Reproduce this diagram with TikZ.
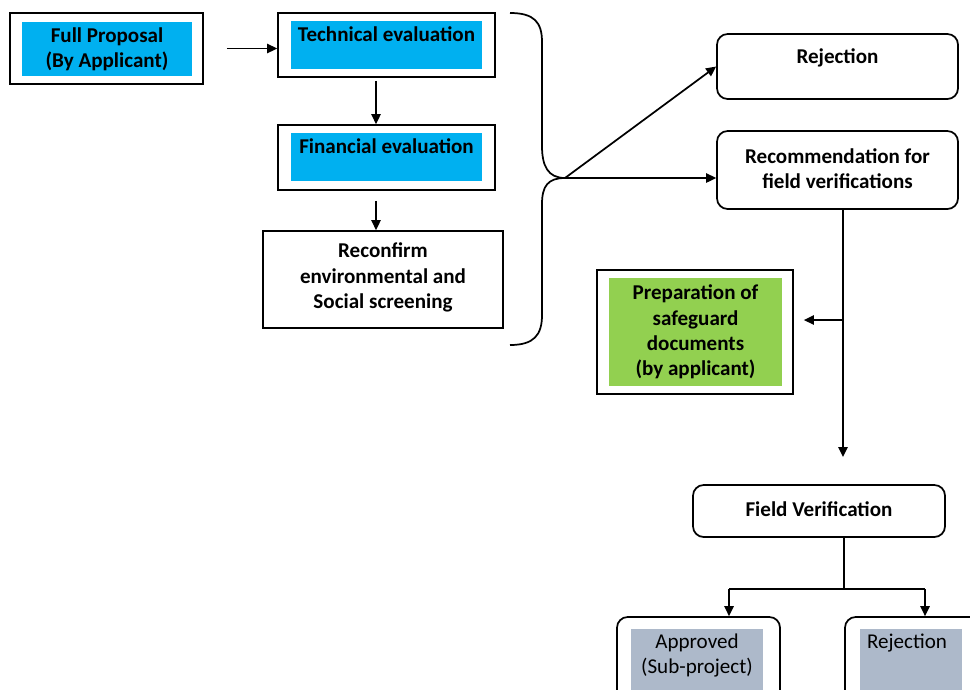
\documentclass[tikz,border=0pt]{standalone}
\usepackage{fontspec}
\setmainfont{Carlito}
\usetikzlibrary{fit,arrows.meta,calc}
\definecolor{skyfill}{HTML}{00B0F0}
\definecolor{leaf}{HTML}{92D050}
\definecolor{slate}{HTML}{ADB9CA}
\begin{document}
\begin{tikzpicture}[x=0.75pt,y=-0.75pt,
  box/.style={draw, line width=1.3pt, inner sep=0pt},
  rbox/.style={box, rounded corners=8pt},
  fillbox/.style={inner sep=0pt},
  lbl/.style={font=\fontsize{15.8}{18.9}\selectfont\bfseries, align=center, inner sep=0pt},
  plain/.style={font=\fontsize{15.8}{18.9}\selectfont, align=center, inner sep=0pt},
  arr/.style={line width=1.3pt, -{Triangle[length=7.5pt,width=7pt]}},
  ln/.style={line width=1.3pt}]
\clip (0,0) rectangle (970,689);
\fill[white] (0,0) rectangle (970,689);

% left column: evaluation steps
\node[fillbox, fill=skyfill, fit={(22,22)(192,76)}] (fpin) {};
\node[box, fit={(10,13)(203,84)}] (fp) {};
\node[lbl] at (fpin.center) {Full Proposal\\(By Applicant)};

\node[fillbox, fill=skyfill, fit={(291,21)(482,69)}] (techin) {};
\node[box, fit={(278,13)(495,77)}] (tech) {};
\node[lbl] at (386.5,34) {Technical evaluation};

\node[fillbox, fill=skyfill, fit={(291,133)(482,181)}] (finin) {};
\node[box, fit={(278,125)(495,190)}] (fin) {};
\node[lbl] at (386.5,146) {Financial evaluation};

\node[box, fit={(263,231)(503,328)}] (reconf) {};
\node[lbl] at (383,277.5) {Reconfirm\\environmental and\\Social screening};

\draw[arr] ($(fp.east)+(23,0)$) -- (fp.east -| tech.west);
\draw[arr] ($(tech.south)+(-10.5,3)$) -- ($(fin.north)+(-10.5,0)$);
\draw[arr] ($(fin.south)+(-10.5,10)$) -- ($(reconf.north)+(-7,0)$);

% brace gathering the three checks
\coordinate (tip) at (565,178);
\draw[ln] (510,13) .. controls (534,13) and (542,22) .. (542,42) -- (542,146)
  .. controls (542,166) and (548,178) .. (tip);
\draw[ln] (tip) .. controls (548,178) and (542,186) .. (542,204) -- (542,315)
  .. controls (542,335) and (534,345) .. (510,345);

% right column: outcomes
\node[rbox, fit={(717,34)(958,99)}] (rej) {};
\node[lbl] at (837.5,58) {Rejection};

\node[rbox, fit={(717,131)(958,209)}] (rec) {};
\node[lbl] at (837.5,168.5) {Recommendation for\\field verifications};

\draw[arr] (tip) -- (rej.west);
\draw[arr] (tip) -- (tip -| rec.west);

\node[fillbox, fill=leaf, fit={(609,278)(782,386)}] (prepin) {};
\node[box, fit={(597,270)(793,394)}] (prep) {};
\node[lbl] at (prepin.center) {Preparation of\\safeguard\\documents\\(by applicant)};

\coordinate (down) at (843,457);
\coordinate (branch) at (843,320);
\draw[arr] ($(rec.south)+(5.5,0)$) -- (down);
\draw[arr] (branch) -- ($(branch -| prep.east)+(10,0)$);

\node[rbox, fit={(693,485)(945,537)}] (fv) {};
\node[lbl] at (819,509) {Field Verification};

\node[rbox, fit={(617,617)(780,710)}] (appr) {};
\node[fillbox, fill=slate, fit={(631,629)(763,710)}] (apprin) {};
\node[plain] at (697,655.5) {Approved\\(Sub-project)};

\node[rbox, fit={(845,617)(985,710)}] (rej2) {};
\node[fillbox, fill=slate, fit={(860,629)(962,710)}] (rej2in) {};
\node[plain] at (907,643) {Rejection};

\coordinate (split) at (844,589);
\draw[ln] ($(fv.south)+(25,0)$) -- (split);
\draw[ln] (split -| 729,0) -- (split -| 925,0);
\draw[arr] (split -| 729,0) -- (appr.north -| 729,0);
\draw[arr] (split -| 925,0) -- (rej2.north -| 925,0);
\end{tikzpicture}
\end{document}
